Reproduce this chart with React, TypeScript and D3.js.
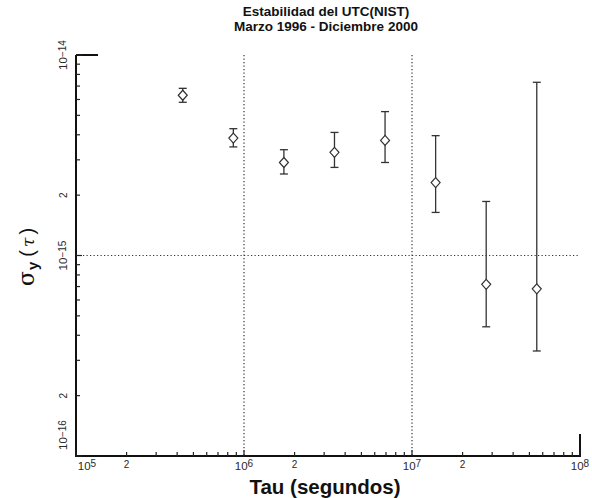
import React from "react";
import * as d3 from "d3";

const taus = [432000, 864000, 1728000, 3456000, 6912000, 13824000, 27648000, 55296000];
const sigma = [6.3e-15, 3.85e-15, 2.91e-15, 3.27e-15, 3.75e-15, 2.31e-15, 7.18e-16, 6.82e-16];
const errHigh = [6.82e-15, 4.29e-15, 3.37e-15, 4.11e-15, 5.22e-15, 3.96e-15, 1.86e-15, 7.31e-15];
const errLow = [5.81e-15, 3.48e-15, 2.55e-15, 2.75e-15, 2.91e-15, 1.64e-15, 4.41e-16, 3.34e-16];
const xMajor = [1e5, 1e6, 1e7, 1e8];
const xMajorExp = ["5", "6", "7", "8"];
const yMajor = [1e-16, 1e-15, 1e-14];
const yMajorExp = ["−16", "−15", "−14"];
const titleLines = ["Estabilidad del UTC(NIST)", "Marzo 1996 - Diciembre 2000"];

const W = 592, H = 498;
const L = 76, R = 580, T = 55, B = 456;
const font = "'Liberation Sans', Arial, Helvetica, sans-serif";

export default function App() {
  const x = d3.scaleLog().domain([1e5, 1e8]).range([L, R]);
  const y = d3.scaleLog().domain([1e-16, 1e-14]).range([B, T]);

  const xMinor: number[] = [];
  for (let e = 5; e < 8; e++) for (let m = 2; m <= 9; m++) xMinor.push(m * Math.pow(10, e));
  const yMinor: number[] = [];
  for (let e = -16; e < -14; e++) for (let m = 2; m <= 9; m++) yMinor.push(m * Math.pow(10, e));

  const tickCol = "#222";
  const labCol = "#2a2a2a";
  return (
    <svg width={W} height={H} style={{ position: "absolute", left: 0, top: 0, background: "#fff" }}>
      <rect x={0} y={0} width={W} height={H} fill="#fff" />
      {titleLines.map((t, i) => (
        <text key={i} x={326} y={16 + i * 14.5} textAnchor="middle" fontFamily={font} fontWeight="bold" fontSize={13.5} fill="#111">{t}</text>
      ))}
      {[1e6, 1e7].map((v) => (
        <line key={v} x1={x(v)} x2={x(v)} y1={T} y2={B} stroke="#333" strokeWidth={1.2} strokeDasharray="1.2,2.3" />
      ))}
      <line x1={L} x2={R} y1={y(1e-15)} y2={y(1e-15)} stroke="#333" strokeWidth={1.2} strokeDasharray="1.2,2.3" />
      <line x1={L} x2={L} y1={T} y2={B + 1} stroke="#111" strokeWidth={2} />
      <line x1={L - 1} x2={R + 1} y1={B} y2={B} stroke="#111" strokeWidth={2} />
      <line x1={R} x2={R} y1={B} y2={B - 22} stroke="#111" strokeWidth={2} />
      <line x1={L} x2={L + 22} y1={T} y2={T} stroke="#111" strokeWidth={2} />
      {xMajor.map((v) => (
        <line key={"xM" + v} x1={x(v)} x2={x(v)} y1={B} y2={B - 6} stroke={tickCol} strokeWidth={1.2} />
      ))}
      {xMinor.map((v) => (
        <line key={"xm" + v} x1={x(v)} x2={x(v)} y1={B} y2={B - 4} stroke={tickCol} strokeWidth={1.2} />
      ))}
      {xMajor.map((v, i) => (
        <text key={"xl" + v} x={x(v) + (i === 0 ? 11 : 0)} y={470} textAnchor="middle" fontFamily={font} fontSize={11.5} fill={labCol}>
          10<tspan dy={-3} fontSize={10}>{xMajorExp[i]}</tspan>
        </text>
      ))}
      {xMajor.slice(0, 3).map((v) => (
        <text key={"x2" + v} x={x(2 * v)} y={468} textAnchor="middle" fontFamily={font} fontSize={10} fill={labCol}>2</text>
      ))}
      {yMajor.map((v) => (
        <line key={"yM" + v} x1={L} x2={L + 6} y1={y(v)} y2={y(v)} stroke={tickCol} strokeWidth={1.2} />
      ))}
      {yMinor.map((v) => (
        <line key={"ym" + v} x1={L} x2={L + 4} y1={y(v)} y2={y(v)} stroke={tickCol} strokeWidth={1.2} />
      ))}
      {yMajor.map((v, i) => {
        const cy = i === 0 ? y(v) - 21 : y(v);
        return (
          <text key={"yl" + v} transform={`translate(67,${cy}) rotate(-90)`} textAnchor="middle" fontFamily={font} fontSize={11.5} fill={labCol}>
            10<tspan dy={-1} fontSize={10}>{yMajorExp[i]}</tspan>
          </text>
        );
      })}
      {yMajor.slice(0, 2).map((v) => (
        <text key={"y2" + v} transform={`translate(67,${y(2 * v)}) rotate(-90)`} textAnchor="middle" fontFamily={font} fontSize={10} fill={labCol}>2</text>
      ))}
      <text transform={`translate(34,286) rotate(-90)`} fontFamily={font} fill="#111" textAnchor="start">
        <tspan fontFamily="'DejaVu Serif', serif" fontSize={22}>σ</tspan>
        <tspan fontSize={15} fontWeight="bold" dy={4} dx={1}>y</tspan>
        <tspan fontSize={20} dy={-4} dx={5}>(</tspan>
        <tspan fontFamily="'DejaVu Serif', serif" fontStyle="italic" fontSize={17} dx={3}>τ</tspan>
        <tspan fontSize={20} dx={3}>)</tspan>
      </text>
      <text x={325} y={494} textAnchor="middle" fontFamily={font} fontWeight="bold" fontSize={20.5} fill="#111">Tau (segundos)</text>
      {taus.map((t, i) => {
        const cx = x(t);
        return (
          <g key={"e" + i} stroke="#333" strokeWidth={1.3}>
            <line x1={cx} x2={cx} y1={y(errHigh[i])} y2={y(errLow[i])} />
            <line x1={cx - 4} x2={cx + 4} y1={y(errHigh[i])} y2={y(errHigh[i])} />
            <line x1={cx - 4} x2={cx + 4} y1={y(errLow[i])} y2={y(errLow[i])} />
          </g>
        );
      })}
      {taus.map((t, i) => {
        const cx = x(t), cy = y(sigma[i]);
        return (
          <path key={"d" + i} d={`M${cx},${cy - 5}L${cx + 4.5},${cy}L${cx},${cy + 5}L${cx - 4.5},${cy}Z`} fill="#fff" stroke="#333" strokeWidth={1.2} />
        );
      })}
    </svg>
  );
}
